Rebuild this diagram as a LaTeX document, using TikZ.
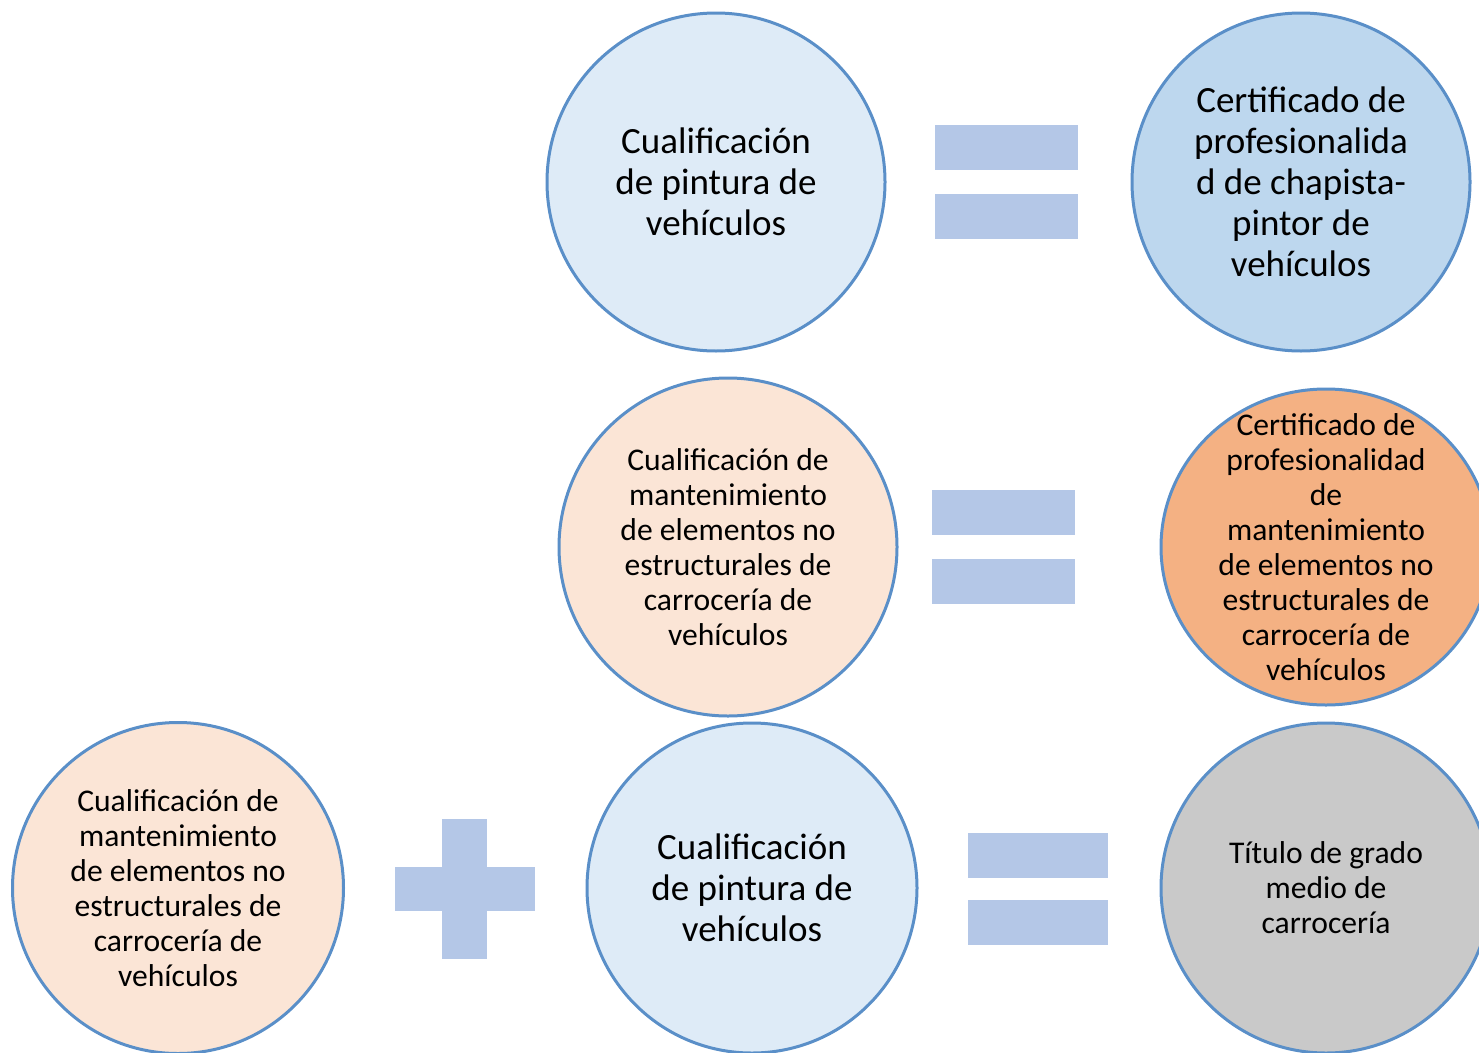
\documentclass[tikz,border=0pt]{standalone}
\usepackage{fontspec}
\usetikzlibrary{shapes.geometric}
\setmainfont{Carlito}
\definecolor{ring}{HTML}{5A8FC8}
\definecolor{palebl}{HTML}{DEEBF7}
\definecolor{midbl}{HTML}{BDD7EE}
\definecolor{paleor}{HTML}{FBE5D6}
\definecolor{orng}{HTML}{F4B183}
\definecolor{grayc}{HTML}{C9C9C9}
\definecolor{barc}{HTML}{B4C7E7}
\tikzset{
  bubble/.style={circle, draw=ring, line width=3pt, inner sep=0pt},
  label txt/.style={align=center, text=black, inner sep=0pt},
  bigtxt/.style={font=\fontsize{37}{41}\selectfont},
  smalltxt/.style={font=\fontsize{31.6}{35}\selectfont},
  bar/.style={fill=barc, draw=none}
}
\begin{document}
\begin{tikzpicture}[x=1pt,y=-1pt]
\useasboundingbox (0,0) rectangle (1479,1052);
\clip (0,0) rectangle (1479,1052);
% row 1
\node[bubble, fill=palebl, minimum size=338pt] (c1) at (716,182) {};
\node[label txt, bigtxt] (t1) at (c1.center) {Cualificación\\de pintura de\\vehículos};
\node[bubble, fill=midbl, minimum size=338pt] (c2) at (1301,182) {};
\node[label txt, bigtxt] (t2) at (c2.center) {Certificado de\\profesionalida\\d de chapista-\\pintor de\\vehículos};
\fill[bar] (935,125) rectangle (1078,170);
\fill[bar] (935,194) rectangle (1078,239);
% row 2
\node[bubble, fill=paleor, minimum size=338pt] (c3) at (728,547) {};
\node[label txt, smalltxt] (t3) at (c3.center) {Cualificación de\\mantenimiento\\de elementos no\\estructurales de\\carrocería de\\vehículos};
\node[ellipse, draw=ring, line width=3pt, inner sep=0pt, fill=orng, minimum width=330pt, minimum height=316pt] (c4) at (1326,547) {};
\node[label txt, smalltxt] (t4) at (c4.center) {Certificado de\\profesionalidad\\de\\mantenimiento\\de elementos no\\estructurales de\\carrocería de\\vehículos};
\fill[bar] (932,490) rectangle (1075,535);
\fill[bar] (932,559) rectangle (1075,604);
% row 3
\node[bubble, fill=paleor, minimum size=331pt] (c5) at (178,888) {};
\node[label txt, smalltxt] (t5) at (c5.center) {Cualificación de\\mantenimiento\\de elementos no\\estructurales de\\carrocería de\\vehículos};
\node[bubble, fill=palebl, minimum size=330pt] (c6) at (752,888) {};
\node[label txt, bigtxt] (t6) at (c6.center) {Cualificación\\de pintura de\\vehículos};
\node[bubble, fill=grayc, minimum size=330pt] (c7) at (1326,888) {};
\node[label txt, smalltxt] (t7) at (c7.center) {Título de grado\\medio de\\carrocería};
\fill[bar] (395,867) rectangle (535,911);
\fill[bar] (442,819) rectangle (487,959);
\fill[bar] (968,833) rectangle (1108,878);
\fill[bar] (968,900) rectangle (1108,945);
\end{tikzpicture}
\end{document}
